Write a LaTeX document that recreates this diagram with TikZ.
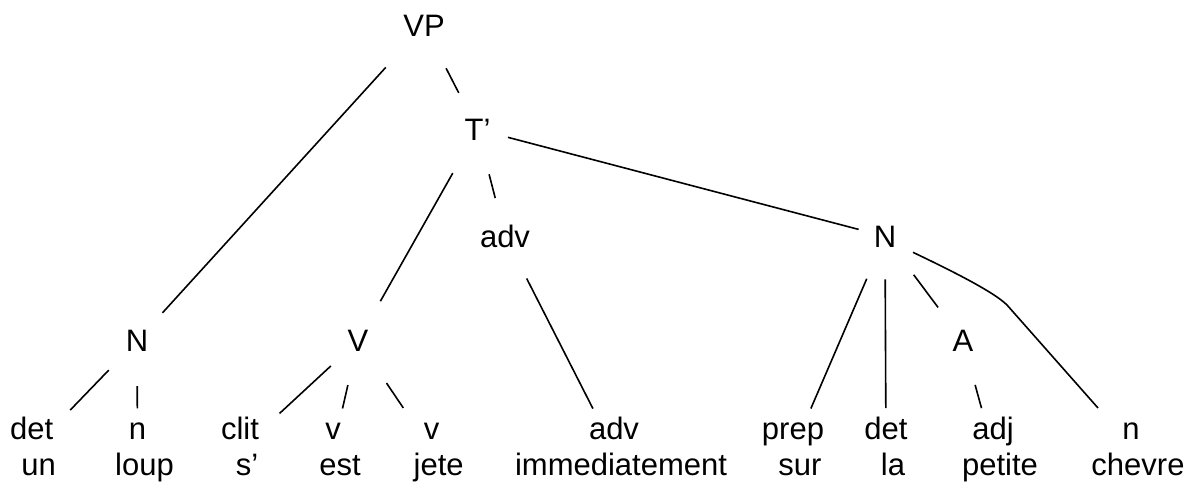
\documentclass[tikz,border=0pt]{standalone}
\usepackage{fontspec}
\setmainfont{Liberation Sans}

% a leaf: category on the first line, the word below it, slightly to the right
\newcommand{\twoline}[2]{\begin{tabular}{@{}c@{}}#1\\\hspace*{14pt}#2\end{tabular}}
% a straight branch between two named nodes, trimmed at both ends
\newcommand{\branch}[4]{\draw[edge, shorten <=#3pt, shorten >=#4pt] (#1.center) -- (#2.center);}

\begin{document}
\begin{tikzpicture}[x=1pt, y=-1pt,
    cat/.style={anchor=base, inner sep=0pt, font=\fontsize{31}{36}\selectfont},
    leaf/.style={anchor=center, inner sep=0pt, font=\fontsize{31}{36}\selectfont},
    edge/.style={line width=1.6pt, black}]
  \useasboundingbox (0,0) rectangle (1196,482);
  \fill[white] (0,0) rectangle (1196,482);

  % phrase-level nodes
  \node[cat] (VP)   at (424,36)    {VP};
  \node[cat] (Tb)   at (477.5,140) {T’};
  \node[cat] (advP) at (505,247)   {adv};
  \node[cat] (N2)   at (885,247)   {N};
  \node[cat] (N1)   at (137,351.5) {N};
  \node[cat] (V1)   at (358,351.5) {V};
  \node[cat] (A1)   at (963,351.5) {A};

  % leaves
  \node[leaf] (L1)  at (31.7,450)  {\twoline{det}{un}};
  \node[leaf] (L2)  at (137.5,450) {\twoline{n}{loup}};
  \node[leaf] (L3)  at (240,450)   {\twoline{clit}{s’}};
  \node[leaf] (L4)  at (333,450)   {\twoline{v}{est}};
  \node[leaf] (L5)  at (431.7,450) {\twoline{v}{jete}};
  \node[leaf] (L6)  at (614,450)   {\twoline{adv}{immediatement}};
  \node[leaf] (L7)  at (793,450)   {\twoline{prep}{sur}};
  \node[leaf] (L8)  at (886,450)   {\twoline{det}{la}};
  \node[leaf] (L9)  at (993,450)   {\twoline{adj}{petite}};
  \node[leaf] (L10) at (1131,450)  {\twoline{n}{chevre}};

  % branches
  \branch{VP}{N1}{56.9}{37.9}
  \branch{VP}{Tb}{48.3}{41}
  \branch{Tb}{V1}{50.3}{45.5}
  \branch{Tb}{advP}{46.4}{39.1}
  \branch{Tb}{N2}{31.5}{27.3}
  \branch{advP}{L6}{47.7}{46.5}
  \branch{N1}{L1}{40.7}{55.4}
  \branch{N1}{L2}{45.4}{41.7}
  \branch{V1}{L3}{37}{53.8}
  \branch{V1}{L4}{45.4}{42.6}
  \branch{V1}{L5}{50.9}{50.8}
  \branch{N2}{L7}{46.2}{45.2}
  \branch{N2}{L8}{43}{42}
  \branch{N2}{A1}{48}{41.7}
  \branch{A1}{L9}{45.7}{43.4}

  % the long branch to the last leaf bends on its way down
  \draw[edge] ([shift={(28,16)}]N2.center)
      .. controls (944.5,267.4) and (992.9,290.9) .. (1007,305)
      -- ([shift={(-33,-42)}]L10.center);
\end{tikzpicture}
\end{document}
